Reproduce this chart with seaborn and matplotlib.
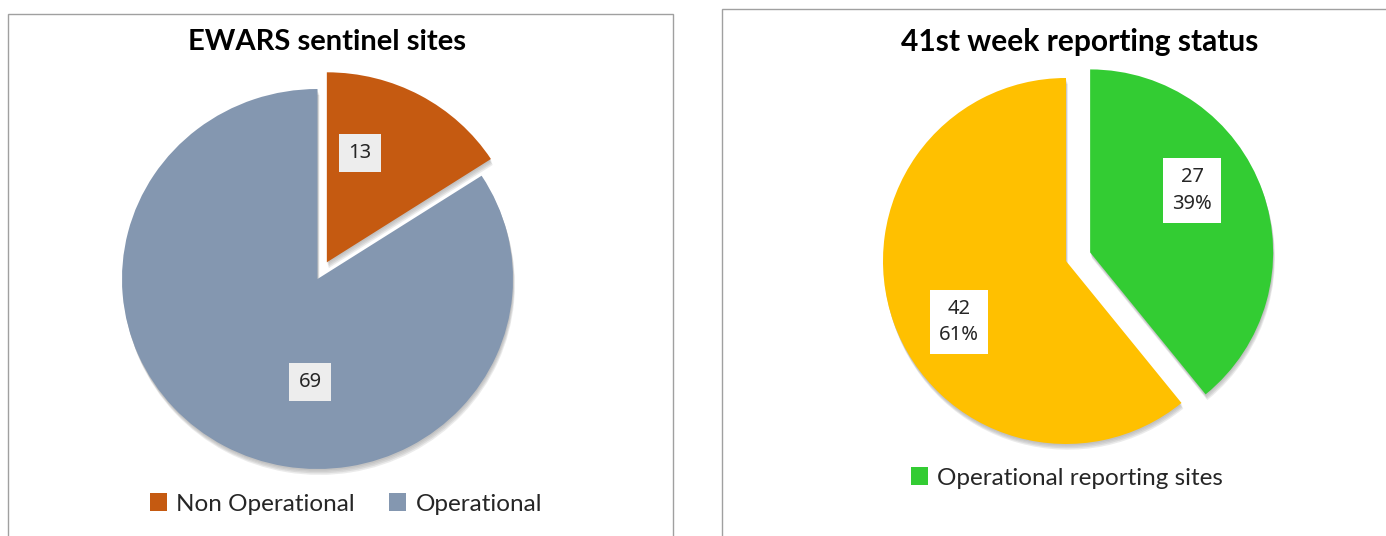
import matplotlib
matplotlib.use("Agg")
import matplotlib.pyplot as plt
from matplotlib.patches import Rectangle, Patch
import seaborn as sns

# ---- data ----
left_title = "EWARS sentinel sites"
left_categories = ["Non Operational", "Operational"]
left_values = [13, 69]

right_title = "41st week reporting status"
right_categories = ["Operational reporting sites", "Non reporting sites"]
right_values = [27, 42]
right_percents = ["39%", "61%"]

sns.set_theme(style="white")
TITLE_FONT = ["Lato", "DejaVu Sans"]
LABEL_FONT = ["Noto Sans", "DejaVu Sans"]
plt.rcParams["font.family"] = TITLE_FONT

left_colors = sns.color_palette(["#C55A11", "#8497B0"])
right_colors = sns.color_palette(["#33CC33", "#FFC000"])

W, H = 1386, 536
fig = plt.figure(figsize=(W / 100, H / 100), dpi=100)
fig.patch.set_facecolor("white")


def px_axes(cx, cy, rx, ry, half_w, half_h):
    """Axes where data (0,0) is at pixel (cx, cy from top) and unit = rx/ry px."""
    ax = fig.add_axes([(cx - half_w) / W, (H - cy - half_h) / H,
                       2 * half_w / W, 2 * half_h / H])
    return ax, half_w / rx, half_h / ry


def draw_pie(ax, values, colors, explode, xl, yl):
    # soft shadow layers
    for k, a in enumerate([0.08, 0.08, 0.10, 0.10]):
        off = 0.006 * (k + 1)
        ax.pie(values, colors=["#404040"] * len(values), explode=explode,
               startangle=90, counterclock=False, center=(off * 0.4, -off * 1.3),
               wedgeprops=dict(linewidth=0, alpha=a))
    wedges, _ = ax.pie(values, colors=colors, explode=explode, startangle=90,
                       counterclock=False, wedgeprops=dict(linewidth=0))
    ax.set_aspect("auto")
    ax.set_xlim(-xl, xl)
    ax.set_ylim(-yl, yl)
    ax.axis("off")
    return wedges


# ---- frames ----
fig.add_artist(Rectangle((8 / W, -0.1), (673 - 8) / W, (H - 14) / H + 0.1,
                         transform=fig.transFigure, fill=False,
                         edgecolor="#A0A0A0", linewidth=1.0))
fig.add_artist(Rectangle((722 / W, -0.1), 1.0, (H - 9) / H + 0.1,
                         transform=fig.transFigure, fill=False,
                         edgecolor="#A0A0A0", linewidth=1.0))

# ---- left pie ----
axL, xlL, ylL = px_axes(317.5, 279, 195.5, 190, 260, 250)
draw_pie(axL, left_values, left_colors, [0.10, 0.0], xlL, ylL)
left_label_pos = [(0.217, 0.663), (-0.038, -0.542)]
for v, (x, y) in zip(left_values, left_label_pos):
    axL.text(x, y, f"{v}", ha="center", va="center", fontsize=14.5,
             family=LABEL_FONT, color="#262626",
             bbox=dict(boxstyle="square,pad=0.45", facecolor="#EDEDED",
                       edgecolor="none"))

fig.text(327 / W, 1 - 42 / H, left_title, ha="center", va="center",
         fontsize=21, fontweight="bold", color="black", family=TITLE_FONT)
fig.legend(handles=[Patch(facecolor=c, edgecolor="none", label=l)
                    for c, l in zip(left_colors, left_categories)],
           loc="center", bbox_to_anchor=(346 / W, 1 - 504 / H), ncol=2,
           frameon=False, handlelength=0.7, handleheight=0.7,
           handletextpad=0.4, columnspacing=1.4,
           prop={"family": TITLE_FONT, "size": 17.5})

# ---- right pie ----
axR, xlR, ylR = px_axes(1066, 261, 183, 183, 250, 250)
draw_pie(axR, right_values, right_colors, [0.14, 0.0], xlR, ylR)
right_label_pos = [(0.69, 0.385), (-0.585, -0.333)]
for v, p, (x, y) in zip(right_values, right_percents, right_label_pos):
    axR.text(x, y, f"{v}\n{p}", ha="center", va="center", fontsize=14.5,
             family=LABEL_FONT, color="#262626", linespacing=1.45,
             bbox=dict(boxstyle="square,pad=0.45", facecolor="white",
                       edgecolor="none"))

fig.text(1080 / W, 1 - 42 / H, right_title, ha="center", va="center",
         fontsize=21.5, fontweight="bold", color="black", family=TITLE_FONT)
fig.legend(handles=[Patch(facecolor=right_colors[0], edgecolor="none",
                          label=right_categories[0])],
           loc="center", bbox_to_anchor=(1067 / W, 1 - 478 / H), ncol=1,
           frameon=False, handlelength=0.7, handleheight=0.7,
           handletextpad=0.4, prop={"family": TITLE_FONT, "size": 17.5})

fig.savefig("out.png", dpi=100, facecolor="white")
